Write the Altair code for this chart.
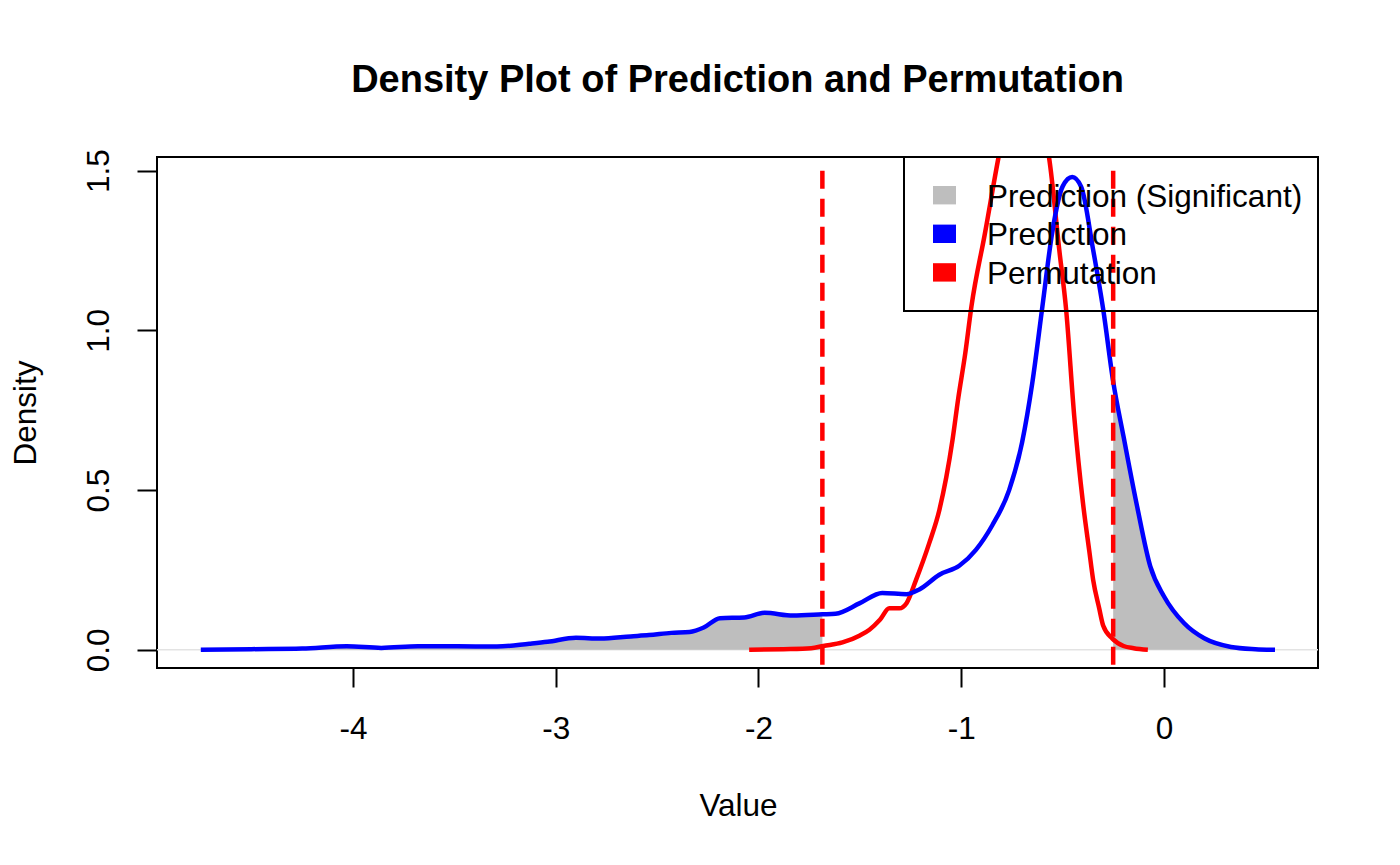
import pandas as pd
import altair as alt

# density of the prediction scores (blue)
BLUE_X = [-4.75, -4.5, -4.25, -4.03, -3.86, -3.68, -3.5, -3.29, -3.13, -3.04,
          -2.90, -2.78, -2.63, -2.54, -2.43, -2.34, -2.27, -2.19, -2.07, -1.97,
          -1.83, -1.685, -1.62, -1.50, -1.39, -1.27, -1.207, -1.108, -1.01,
          -0.928, -0.847, -0.764, -0.70, -0.65, -0.60, -0.552, -0.50, -0.453,
          -0.409, -0.35, -0.30, -0.251, -0.20, -0.133, -0.068, 0.0, 0.099,
          0.198, 0.33, 0.45, 0.547]
BLUE_Y = [0.0, 0.002, 0.004, 0.011, 0.006, 0.011, 0.011, 0.010, 0.019, 0.025,
          0.038, 0.035, 0.042, 0.046, 0.053, 0.056, 0.070, 0.099, 0.101, 0.116,
          0.107, 0.111, 0.113, 0.146, 0.178, 0.174, 0.189, 0.235, 0.263,
          0.313, 0.390, 0.50, 0.650, 0.835, 1.075, 1.305, 1.451, 1.48,
          1.45, 1.253, 1.065, 0.84, 0.668, 0.449, 0.261, 0.167, 0.083,
          0.036, 0.009, 0.002, 0.0]

# density of the permutation scores (red); its peak runs above the frame
RED_X = [-2.046, -1.877, -1.74, -1.68, -1.586, -1.50, -1.453, -1.40, -1.355,
         -1.305, -1.27, -1.223, -1.158, -1.108, -1.043, -1.016, -0.98, -0.95,
         -0.883, -0.817, -0.76, -0.70, -0.64, -0.60, -0.567, -0.517, -0.483,
         -0.443, -0.40, -0.369, -0.35, -0.32, -0.30, -0.255, -0.20, -0.15,
         -0.08]
RED_Y = [0.0, 0.002, 0.005, 0.012, 0.023, 0.045, 0.063, 0.095, 0.13,
         0.13, 0.146, 0.219, 0.334, 0.438, 0.658, 0.783, 0.93, 1.075,
         1.305, 1.54, 1.72, 1.82, 1.76, 1.64, 1.54, 1.253, 1.065,
         0.731, 0.46, 0.31, 0.22, 0.13, 0.075, 0.035, 0.012, 0.005,
         0.0]

CUTOFFS = [-1.685, -0.251]
DASH_TOP = 1.5

LEGEND_LABELS = ['Prediction (Significant)', 'Prediction', 'Permutation']
LEGEND_COLORS = ['#bebebe', '#0000ff', '#ff0000']

FONT = 'Liberation Sans'
FS = 31.5
W, H = 1161, 511

df_blue = pd.DataFrame({'x': BLUE_X, 'y': BLUE_Y})
df_red = pd.DataFrame({'x': RED_X, 'y': RED_Y})
df_cut = pd.DataFrame({'x': CUTOFFS, 'y': [DASH_TOP] * len(CUTOFFS)})
df_zero = pd.DataFrame({'y': [0.0]})

x_enc = alt.X('x:Q', title='Value',
              scale=alt.Scale(domain=[-4.966, 0.759], nice=False, zero=False),
              axis=alt.Axis(values=[-4, -3, -2, -1, 0], grid=False, domain=False,
                            labelExpr='toString(datum.value)',
                            tickColor='black', tickWidth=2, tickSize=19,
                            labelFont=FONT, labelFontSize=FS, labelColor='black',
                            labelPadding=51, labelBaseline='alphabetic',
                            titleFont=FONT, titleFontSize=FS, titleFontWeight='normal',
                            titleColor='black', titleX=581, titleY=147,
                            titleAlign='center', titleBaseline='alphabetic'))

y_enc = alt.Y('y:Q', title='Density',
              scale=alt.Scale(domain=[-0.057, 1.543], nice=False, zero=False),
              axis=alt.Axis(values=[0, 0.5, 1.0, 1.5], format='.1f', grid=False,
                            domain=False, tickColor='black', tickWidth=2, tickSize=20,
                            labelFont=FONT, labelFontSize=FS, labelColor='black',
                            labelAngle=270, labelAlign='center',
                            labelBaseline='alphabetic', labelPadding=29,
                            titleFont=FONT, titleFontSize=FS, titleFontWeight='normal',
                            titleColor='black', titleAngle=270, titleX=-122,
                            titleY=255.5, titleAlign='center',
                            titleBaseline='alphabetic'))

zero_line = alt.Chart(df_zero).mark_rule(color='#e3e3e3', strokeWidth=1.5).encode(
    y=y_enc
)

fill_left = alt.Chart(df_blue).transform_filter(
    alt.datum.x <= CUTOFFS[0]
).mark_area(color='#bebebe', interpolate='monotone', clip=True).encode(
    x=x_enc, y=y_enc, y2=alt.datum(0)
)

fill_right = alt.Chart(df_blue).transform_filter(
    alt.datum.x >= CUTOFFS[1]
).mark_area(color='#bebebe', interpolate='monotone', clip=True).encode(
    x=x_enc, y=y_enc, y2=alt.datum(0)
)

red_line = alt.Chart(df_red).mark_line(
    color='#ff0000', strokeWidth=4.5, interpolate='monotone', clip=True
).encode(x=x_enc, y=y_enc)

blue_line = alt.Chart(df_blue).mark_line(
    color='#0000ff', strokeWidth=4.5, interpolate='monotone', clip=True
).encode(x=x_enc, y=y_enc)

cut_lines = alt.Chart(df_cut).mark_rule(
    color='#ff0000', strokeWidth=4.5, strokeDash=[18, 10], clip=True
).encode(x=x_enc, y=y_enc, y2=alt.value(H))

# legend drawn by hand, like R's legend()
legend_box = alt.Chart(pd.DataFrame({'a': [0]})).mark_rect(
    filled=False, stroke='black', strokeWidth=2
).encode(x=alt.value(747), x2=alt.value(W), y=alt.value(0), y2=alt.value(154))

legend_parts = []
for i, (lab, col) in enumerate(zip(LEGEND_LABELS, LEGEND_COLORS)):
    yc = 38.2 + 38.6 * i
    row = pd.DataFrame({'label': [lab]})
    legend_parts.append(
        alt.Chart(row).mark_rect(color=col).encode(
            x=alt.value(776), x2=alt.value(799),
            y=alt.value(yc - 9.2), y2=alt.value(yc + 9.2))
    )
    legend_parts.append(
        alt.Chart(row).mark_text(align='left', baseline='alphabetic',
                                 font=FONT, fontSize=FS, color='black').encode(
            x=alt.value(830), y=alt.value(yc + 11.5), text='label:N')
    )

chart = alt.layer(
    zero_line, fill_left, fill_right, red_line, blue_line, cut_lines,
    legend_box, *legend_parts
).properties(
    width=W, height=H,
    title=alt.TitleParams('Density Plot of Prediction and Permutation',
                          font=FONT, fontSize=38, fontWeight='bold',
                          color='black', anchor='middle',
                          baseline='alphabetic', offset=19, frame='group'),
    autosize=alt.AutoSizeParams(type='none'),
    padding={'left': 149, 'top': 149, 'right': 70, 'bottom': 180},
    background='white'
).configure_view(stroke='black', strokeWidth=2)

chart.save('out.html', embed_options={'renderer': 'svg', 'actions': False})
